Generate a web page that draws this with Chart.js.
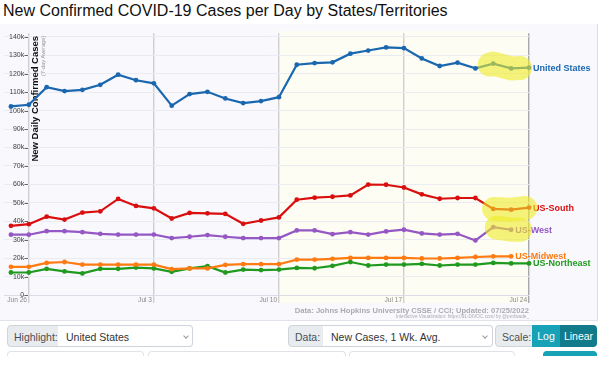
<!DOCTYPE html>
<html>
<head>
<meta charset="utf-8">
<script src="https://cdn.jsdelivr.net/npm/chart.js@4/dist/chart.umd.min.js"></script>
<style>
html,body{margin:0;padding:0;background:#fff;width:600px;height:388px;overflow:hidden;font-family:"Liberation Sans",Arial,sans-serif;}
#title{position:absolute;left:3px;top:1px;font-size:16px;line-height:20px;color:#111;white-space:nowrap;}
#chartBox{position:absolute;left:0;top:24px;width:598px;height:296px;}
#rborder{position:absolute;left:597px;top:24px;width:1px;height:297px;background:#dcdce4;}
#hborder{position:absolute;left:0;top:320px;width:598px;height:1px;background:#e2e2ea;}
.box{position:absolute;top:325px;height:22px;line-height:22px;font-size:10.5px;color:#495057;box-sizing:border-box;border:1px solid #ced4da;white-space:nowrap;}
.lab{background:#e9ecef;border-radius:4px 0 0 4px;padding-left:6px;}
.sel{background:#fff;border-left:none;border-radius:0 4px 4px 0;padding-left:8px;color:#333;}
.chev{position:absolute;top:8px;width:3px;height:3px;border-right:1px solid #999;border-bottom:1px solid #999;transform:rotate(45deg);}
.btn{color:#fff;text-align:center;border:none;}
.row2{position:absolute;top:351px;height:5px;box-sizing:border-box;border:1px solid #dfe3e8;border-bottom:none;border-radius:4px 4px 0 0;}
</style>
</head>
<body>
<div id="title">New Confirmed COVID-19 Cases per Day by States/Territories</div>
<div id="chartBox"><canvas id="c" width="598" height="296"></canvas></div>
<div id="rborder"></div>
<div id="hborder"></div>

<div class="box lab" style="left:7px;width:52px;">Highlight:</div>
<div class="box sel" style="left:58px;width:135px;">United States<span class="chev" style="left:126px;"></span></div>
<div class="box lab" style="left:288px;width:36px;">Data:</div>
<div class="box sel" style="left:323px;width:170px;">New Cases, 1 Wk. Avg.<span class="chev" style="left:160px;"></span></div>
<div class="box lab" style="left:495px;width:38px;border-radius:4px 0 0 4px;">Scale:</div>
<div class="box btn" style="left:532px;width:28px;background:#17a2b8;">Log</div>
<div class="box btn" style="left:560px;width:37px;background:#117a8b;border-radius:0 4px 4px 0;">Linear</div>

<div class="row2" style="left:7px;width:137px;"></div>
<div class="row2" style="left:148px;width:198px;"></div>
<div class="row2" style="left:349px;width:166px;"></div>
<div class="row2" style="left:543px;width:54px;background:#17a2b8;border-color:#17a2b8;"></div>

<script>
// ---- data (thousands of new cases per day, 7-day average) ----
const days = ['Jun 25','Jun 26','Jun 27','Jun 28','Jun 29','Jun 30','Jul 1','Jul 2','Jul 3','Jul 4',
  'Jul 5','Jul 6','Jul 7','Jul 8','Jul 9','Jul 10','Jul 11','Jul 12','Jul 13','Jul 14',
  'Jul 15','Jul 16','Jul 17','Jul 18','Jul 19','Jul 20','Jul 21','Jul 22','Jul 23','Jul 24'];
const tickDays = ['Jun 26','Jul 3','Jul 10','Jul 17','Jul 24'];
const yTickValues = [0,10,20,30,40,50,60,70,80,90,100,110,120,130,140];
const seriesNames = ['United States','US-South','US-West','US-Midwest','US-Northeast'];
const unitedStates = [102.3,103.2,112.7,110.6,111.3,114.0,119.5,116.5,114.8,102.7,109.0,110.2,106.6,104.1,105.2,107.3,124.9,125.8,126.2,130.9,132.6,134.3,133.9,128.3,124.2,126.0,122.9,125.5,122.9,123.3];
const usSouth = [37.5,38.4,42.5,40.9,44.7,45.4,52.1,48.3,47.0,41.5,44.5,44.3,44.0,38.6,40.4,42.1,51.7,52.8,53.3,54.0,59.9,59.8,58.3,54.6,52.2,52.6,52.6,46.7,46.3,47.4];
const usWest = [32.7,32.7,34.6,34.6,34.1,33.2,32.8,32.8,32.8,30.9,31.6,32.5,31.6,30.9,30.9,30.9,35.0,35.0,33.0,34.1,32.8,34.5,35.4,33.4,32.8,33.2,29.6,36.8,35.4];
const usMidwest = [15.3,15.3,17.4,17.9,16.5,16.5,16.5,16.5,16.5,14.0,14.4,14.4,16.3,16.7,16.7,16.7,19.2,19.2,19.6,20.1,20.1,20.1,20.1,19.8,19.8,20.1,20.6,21.0,21.0];
const usNortheast = [12.2,12.2,14.2,12.8,11.7,14.2,14.2,14.9,14.4,12.6,14.4,15.6,12.2,13.8,13.5,13.8,14.7,14.5,15.8,17.9,16.0,16.5,16.5,16.9,16.0,16.5,16.5,17.4,17.1,17.1];

const seriesData = [unitedStates, usSouth, usWest, usMidwest, usNortheast];
const seriesColors = ['#1a67b0','#d90f0f','#9457c4','#ff7a10','#1f9a1f'];

// yellow highlight spans (fractional day index)
const highlightSpans = [
  {series:0, from:26.8, to:28.5},
  {series:1, from:27.05, to:28.8},
  {series:2, from:27.2, to:28.5}
];

const FONT = '"Liberation Sans", Arial, sans-serif';

const bgPlugin = {
  id:'bg',
  beforeDraw(chart){
    const {ctx, chartArea:a, scales:{x}} = chart;
    ctx.save();
    ctx.fillStyle = '#f8f8fd';
    ctx.fillRect(0,0,chart.width,chart.height);
    const x0 = x.getPixelForValue(days.indexOf('Jul 10'));
    const x1 = x.getPixelForValue(days.indexOf('Jul 24'));
    ctx.fillStyle = '#fdfdf3';
    ctx.fillRect(x0, a.top-2, x1-x0, a.bottom - a.top + 10);
    ctx.restore();
  }
};

const decoPlugin = {
  id:'deco',
  beforeDatasetsDraw(chart){
    const {ctx, chartArea:a, scales:{y}} = chart;
    ctx.save();
    // y tick marks
    ctx.strokeStyle = '#666';
    ctx.lineWidth = 1;
    yTickValues.forEach(v=>{
      const py = Math.round(y.getPixelForValue(v))+0.5;
      ctx.beginPath(); ctx.moveTo(a.left+20.5, py); ctx.lineTo(a.left+24, py); ctx.stroke();
    });
    // axis titles (inside the plot)
    ctx.fillStyle = '#111';
    ctx.font = 'bold 9.5px ' + FONT;
    ctx.textAlign = 'right';
    ctx.textBaseline = 'middle';
    ctx.translate(a.left+31.7, a.top+2.7);
    ctx.rotate(-Math.PI/2);
    ctx.fillText('New Daily Confirmed Cases', 0, 0);
    ctx.restore();
    ctx.save();
    ctx.fillStyle = '#999';
    ctx.font = '5.6px ' + FONT;
    ctx.textAlign = 'right';
    ctx.textBaseline = 'middle';
    ctx.translate(a.left+39.2, a.top+2.7);
    ctx.rotate(-Math.PI/2);
    ctx.fillText('(7-day Average)', 0, 0);
    ctx.restore();
  },
  afterDatasetsDraw(chart){
    const {ctx, chartArea:a, scales:{x}} = chart;
    ctx.save();
    // series end labels
    ctx.font = 'bold 9px ' + FONT;
    ctx.textAlign = 'left';
    ctx.textBaseline = 'middle';
    chart.data.datasets.forEach((ds,i)=>{
      const pts = chart.getDatasetMeta(i).data;
      const last = pts[pts.length-1];
      ctx.fillStyle = ds.borderColor;
      ctx.fillText(seriesNames[i], last.x+4, last.y+0.5);
    });
    // highlight bands
    ctx.strokeStyle = 'rgba(240,235,40,0.6)';
    ctx.lineWidth = 24;
    ctx.lineCap = 'round';
    ctx.lineJoin = 'round';
    highlightSpans.forEach(h=>{
      const pts = chart.getDatasetMeta(h.series).data;
      const n = pts.length;
      const at = f=>{
        const i = Math.floor(f), t = f - i;
        if (i+1 < n) return {x: pts[i].x + (pts[i+1].x-pts[i].x)*t, y: pts[i].y + (pts[i+1].y-pts[i].y)*t};
        return {x: x.getPixelForValue(f), y: pts[n-1].y};
      };
      const path = [at(h.from)];
      for (let k=Math.ceil(h.from); k<=Math.floor(h.to) && k<n; k++) path.push({x:pts[k].x, y:pts[k].y});
      path.push(at(h.to));
      ctx.beginPath();
      path.forEach((p,j)=> j ? ctx.lineTo(p.x,p.y) : ctx.moveTo(p.x,p.y));
      ctx.stroke();
    });
    // source text
    ctx.fillStyle = '#aaaab0';
    ctx.textAlign = 'right';
    ctx.font = 'bold 7.6px ' + FONT;
    ctx.fillText('Data: Johns Hopkins University CSSE / CCI; Updated: 07/25/2022', a.right, 286.5);
    ctx.font = '4.7px ' + FONT;
    ctx.fillText('Interactive Visualization: https://91-DIVOC.com/ by @profwade_', a.right, 292.5);
    ctx.restore();
  }
};

const datasets = seriesData.map((arr,i)=>({
  label: seriesNames[i],
  data: arr.map((v,k)=>({x:k, y:v})),
  borderColor: seriesColors[i],
  backgroundColor: seriesColors[i],
  borderWidth: 2.2,
  pointRadius: 2.4,
  pointBorderWidth: 0,
  tension: 0,
  clip: false
}));

new Chart(document.getElementById('c'), {
  type:'line',
  data:{datasets},
  options:{
    responsive:false,
    animation:false,
    events:[],
    layout:{padding:{left:0,right:69,top:7.3,bottom:0}},
    plugins:{legend:{display:false},tooltip:{enabled:false}},
    scales:{
      x:{
        type:'linear', min:-0.389, max:29,
        afterBuildTicks(s){ s.ticks = tickDays.map(d=>({value: days.indexOf(d)})); },
        afterFit(s){ s.height = 25; },
        ticks:{
          align:'end', padding:-7, color:'#8a8a8a', maxRotation:0, autoSkip:false,
          font:{size:6.6, family:FONT},
          callback:(v)=> days[v] + ' '
        },
        grid:{
          drawTicks:true, tickLength:8,
          color:(c)=> c.tick && c.tick.value===29 ? '#a8a8a8' : '#cfcfcf',
          tickColor:(c)=> c.tick && c.tick.value===29 ? '#a8a8a8' : '#cfcfcf',
          lineWidth:1.4
        },
        border:{display:true, color:'#dcdce6', width:1}
      },
      y:{
        type:'linear', min:0, max:142,
        afterBuildTicks(s){ s.ticks = yTickValues.map(v=>({value:v})); },
        afterFit(s){ s.width = 0; },
        ticks:{
          mirror:true, crossAlign:'far', padding:5, color:'#444',
          font:{size:7, family:FONT},
          callback:(v)=> v===0 ? '0' : v + 'k'
        },
        grid:{drawTicks:false, color:'#ebebf2', lineWidth:1},
        border:{display:false}
      }
    }
  },
  plugins:[bgPlugin, decoPlugin]
});
</script>
</body>
</html>
